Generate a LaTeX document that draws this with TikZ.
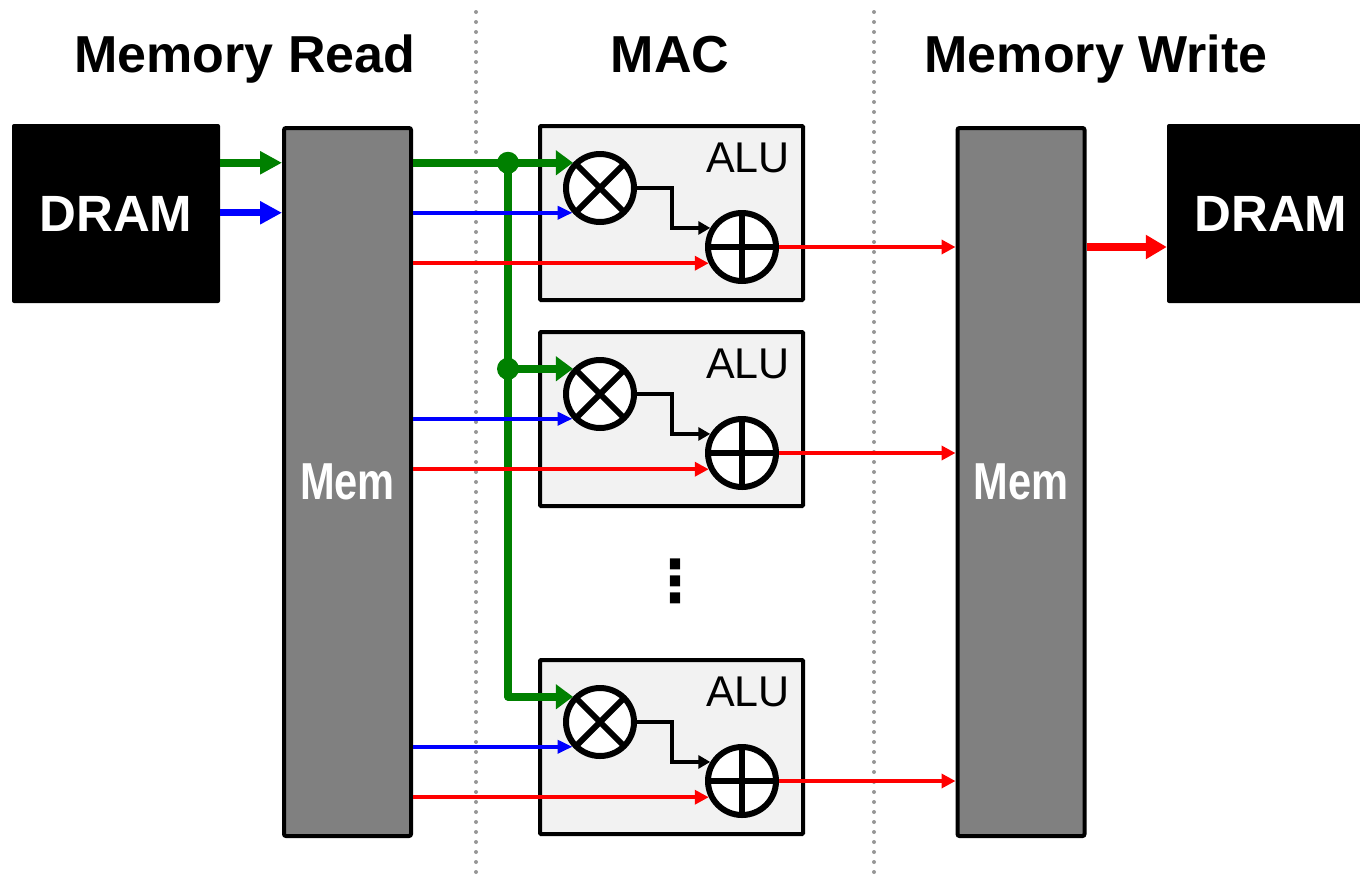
\documentclass[tikz,border=0pt]{standalone}
\usepackage{fontspec}
\setmainfont{Liberation Sans}
\newfontfamily\symfont{DejaVu Sans}
\usetikzlibrary{positioning,arrows.meta,calc}

\definecolor{memgray}{RGB}{128,128,128}
\definecolor{alufill}{RGB}{242,242,242}
\definecolor{dotgray}{RGB}{150,150,150}
\definecolor{wgreen}{RGB}{0,128,0}
\definecolor{wblue}{RGB}{0,0,255}
\definecolor{wred}{RGB}{255,0,0}

\begin{document}
\begin{tikzpicture}[
  x=1pt, y=-1pt,
  title/.style={font=\fontsize{52}{62}\selectfont\bfseries, anchor=base, inner sep=0pt},
  dram/.style={fill=black, rounded corners=2pt, text=white, minimum width=208pt,
    minimum height=179pt, inner sep=0pt, font=\fontsize{51}{61}\selectfont\bfseries},
  mem/.style={draw, line width=4pt, fill=memgray, rounded corners=2pt, text=white,
    minimum width=127pt, minimum height=708pt, inner sep=0pt,
    font=\fontsize{52}{62}\selectfont\bfseries},
  alu/.style={draw, line width=4pt, fill=alufill, rounded corners=1pt,
    minimum width=263pt, minimum height=174pt},
  alutext/.style={font=\fontsize{43}{52}\selectfont, anchor=base east, inner sep=0pt},
  mult/.style={circle, draw, line width=6pt, fill=white, minimum size=68pt, inner sep=0pt,
    path picture={\draw[line width=6pt]
      (path picture bounding box.north west) -- (path picture bounding box.south east)
      (path picture bounding box.north east) -- (path picture bounding box.south west);}},
  add/.style={circle, draw, line width=6pt, fill=white, minimum size=68pt, inner sep=0pt,
    path picture={\draw[line width=6pt]
      (path picture bounding box.north) -- (path picture bounding box.south)
      (path picture bounding box.west) -- (path picture bounding box.east);}},
  dot/.style={circle, fill=wgreen, minimum size=22pt, inner sep=0pt},
  vdots/.style={font=\symfont\bfseries\fontsize{58}{60}\selectfont, inner sep=0pt},
  sep/.style={dotgray, line width=4pt, line cap=round, dash pattern=on 0pt off 10pt},
  gwide/.style={wgreen, line width=7.5pt, -{Triangle[length=22pt, width=22pt]}},
  bwide/.style={wblue, line width=7pt, -{Triangle[length=22pt, width=22pt]}},
  rwide/.style={wred, line width=8pt, -{Triangle[length=21pt, width=23pt]}},
  gthin/.style={wgreen, line width=7.5pt, line join=round, -{Triangle[length=17pt, width=24pt]}},
  bthin/.style={wblue, line width=4.5pt, -{Triangle[length=15pt, width=13pt]}},
  rthin/.style={wred, line width=4.5pt, -{Triangle[length=14pt, width=14pt]}},
  kthin/.style={black, line width=3.5pt, -{Triangle[length=12pt, width=13pt]}}
]
\useasboundingbox (0,0) rectangle (1360,876);

% stage separators
\draw[sep] (476,12) -- (476,876);
\draw[sep] (874,12) -- (874,876);

% stage titles
\node[title] (tRead) at (245,72) {Memory Read};
\node[title] (tMac) at (670,72) {MAC};
\node[title] (tWrite) at (1096,72) {Memory Write};

% memories and DRAM
\node[dram] (dramL) at (116,213.5) {DRAM};
\node[mem] (memL) at (347.5,482) {\scalebox{0.8}[1]{Mem}};
\node[mem] (memR) at (1021,482) {\scalebox{0.8}[1]{Mem}};
\node[dram] (dramR) at (1271,213.5) {DRAM};

% ALU blocks
\node[alu] (alu1) at (671.5,213) {};
\node[alu, below=28pt of alu1] (alu2) {};
\node[alu] (alu3) at (671.5,747) {};
\node[alutext] (lab1) at ($(alu1.north east)+(-15,48)$) {ALU};
\node[alutext] (lab2) at ($(alu2.north east)+(-15,48)$) {ALU};
\node[alutext] (lab3) at ($(alu3.north east)+(-15,48)$) {ALU};
\node[mult] (mult1) at ($(alu1.north west)+(62,64)$) {};
\node[add] (add1) at ($(alu1.north west)+(204,123)$) {};
\node[mult] (mult2) at ($(alu2.north west)+(62,64)$) {};
\node[add] (add2) at ($(alu2.north west)+(204,123)$) {};
\node[mult] (mult3) at ($(alu3.north west)+(62,64)$) {};
\node[add] (add3) at ($(alu3.north west)+(204,123)$) {};
\node[vdots] (more) at (675,581) {⋮};

% DRAM <-> memory
\draw[gwide] (dramL.east |- mult1.137) -- (memL.west |- mult1.137);
\draw[bwide] (dramL.east |- mult1.222) -- (memL.west |- mult1.222);
\draw[rwide] (memR.east |- add1.east) -- (dramR.west |- add1.east);

% shared operand (green bus)
\node[dot, xshift=95pt] (j1) at (memL.east |- mult1.137) {};
\node[dot, xshift=95pt] (j2) at (memL.east |- mult2.137) {};
\draw[gthin] (memL.east |- mult1.137) -- (mult1.137);
\draw[gthin] (j2.center) -- (mult2.137);
\draw[gthin] (j1.center) -- (j1.center |- mult3.137) -- (mult3.137);

% operands and results
\draw[bthin] (memL.east |- mult1.222) -- (mult1.222);
\draw[rthin] (memL.east |- add1.206) -- (add1.206);
\draw[kthin] (mult1.east) -- ++(35,0) |- (add1.149);
\draw[rthin] (add1.east) -- (memR.west |- add1.east);

\draw[bthin] (memL.east |- mult2.222) -- (mult2.222);
\draw[rthin] (memL.east |- add2.206) -- (add2.206);
\draw[kthin] (mult2.east) -- ++(35,0) |- (add2.149);
\draw[rthin] (add2.east) -- (memR.west |- add2.east);

\draw[bthin] (memL.east |- mult3.222) -- (mult3.222);
\draw[rthin] (memL.east |- add3.206) -- (add3.206);
\draw[kthin] (mult3.east) -- ++(35,0) |- (add3.149);
\draw[rthin] (add3.east) -- (memR.west |- add3.east);
\end{tikzpicture}
\end{document}
